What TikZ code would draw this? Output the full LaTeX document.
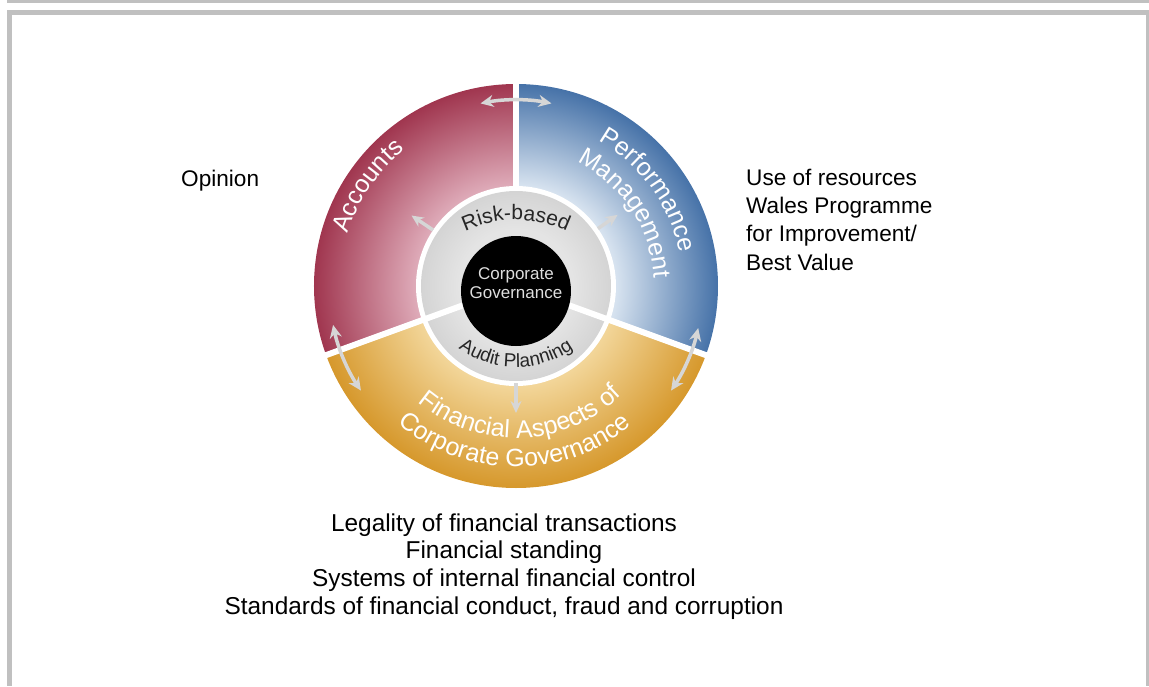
\documentclass[tikz,border=0pt]{standalone}
\usepackage{fontspec}
\setmainfont{Liberation Sans}
\usetikzlibrary{decorations.text,arrows.meta,calc}

\definecolor{framegray}{HTML}{C0C0C0}
\definecolor{accdark}{HTML}{A0364F}
\definecolor{acclight}{HTML}{DEAAB8}
\definecolor{perfdark}{HTML}{4672A8}
\definecolor{perflight}{HTML}{D6E2EF}
\definecolor{findark}{HTML}{D6982C}
\definecolor{finlight}{HTML}{F2D598}
\definecolor{ringdark}{HTML}{D4D4D4}
\definecolor{ringlight}{HTML}{E4E4E4}
\definecolor{arrowgray}{HTML}{D6D6D6}
\definecolor{coretext}{HTML}{DEDEDE}
\definecolor{ringtext}{HTML}{262626}

% radial fills of the three outer segments (25bp = outer rim of the shaded circle)
\pgfdeclareradialshading{accshade}{\pgfpoint{0bp}{0bp}}{color(0bp)=(acclight); color(12.5bp)=(acclight); color(25bp)=(accdark); color(50bp)=(accdark)}
\pgfdeclareradialshading{perfshade}{\pgfpoint{0bp}{0bp}}{color(0bp)=(perflight); color(12.5bp)=(perflight); color(25bp)=(perfdark); color(50bp)=(perfdark)}
\pgfdeclareradialshading{finshade}{\pgfpoint{0bp}{0bp}}{color(0bp)=(finlight); color(12.5bp)=(finlight); color(25bp)=(findark); color(50bp)=(findark)}
\pgfdeclareradialshading{ringshade}{\pgfpoint{0bp}{0bp}}{color(0bp)=(ringlight); color(15bp)=(ringlight); color(25bp)=(ringdark); color(50bp)=(ringdark)}

\newcommand\segfont{\fontsize{25}{30}\selectfont}
\newcommand\ringfont{\fontsize{21}{25}\selectfont}
\newcommand\auditfont{\fontsize{19}{23}\selectfont}

\begin{document}
\begin{tikzpicture}[x=1pt,y=1pt,
  framebar/.style={fill=framegray,draw=none},
  divider/.style={draw=white,line width=6pt},
  linkarrow/.style={draw=arrowgray,line width=3.5pt,
    {Stealth[length=13pt,width=12pt]}-{Stealth[length=13pt,width=12pt]}},
  outarrow/.style={draw=arrowgray,line width=3.5pt,-{Stealth[length=12pt,width=11pt]}},
  sidetext/.style={inner sep=0pt,font=\fontsize{22.6}{28.3}\selectfont,align=left},
  bottomtext/.style={inner sep=0pt,font=\fontsize{24.4}{27.7}\selectfont,align=center}]
\useasboundingbox (-516,-400) rectangle (633,286);

% page frame
\fill[framebar] (-509,286) rectangle (633,283);
\fill[framebar] (-509,276) rectangle (633,271);
\fill[framebar] (-509,276) rectangle (-504,-400);
\fill[framebar] (630,271) rectangle (633,-400);

% outer segments
\begin{scope}
  \clip (0,0) -- (90:210) arc[start angle=90,end angle=200,radius=210] -- cycle;
  \shade[shading=accshade] (0,0) circle (202);
\end{scope}
\begin{scope}
  \clip (0,0) -- (-20:210) arc[start angle=-20,end angle=90,radius=210] -- cycle;
  \shade[shading=perfshade] (0,0) circle (202);
\end{scope}
\begin{scope}
  \clip (0,0) -- (200:210) arc[start angle=200,end angle=340,radius=210] -- cycle;
  \shade[shading=finshade] (0,0) circle (202);
\end{scope}

% inner ring
\fill[white] (0,0) circle (100);
\shade[shading=ringshade] (0,0) circle (95);

% white dividers
\draw[divider] (90:98) -- (90:204);
\draw[divider] (0,0) -- (200:204);
\draw[divider] (0,0) -- (340:204);

% core
\fill[black] (0,-5) circle (55);
\node[text=coretext,font=\fontsize{17}{18.5}\selectfont,align=center,inner sep=0pt]
  (core) at (0,3) {Corporate\\Governance};

% ring captions
\path[decorate,decoration={text along path,text align=center,text color=ringtext,
  text={|\ringfont|Risk-based}}]
  ($(0,-53)+(135:119)$) arc[start angle=135,end angle=45,radius=119];
\path[decorate,decoration={text along path,text align=center,text color=ringtext,
  text={|\auditfont|Audit Planning}}]
  ($(0,18)+(225:99)$) arc[start angle=225,end angle=315,radius=99];

% segment captions
\path[decorate,decoration={text along path,text align=center,text color=white,
  text={|\segfont|Accounts}}]
  (186:176) arc[start angle=186,end angle=106,radius=176];
\path[decorate,decoration={text along path,text align=center,text color=white,
  text={|\segfont|Performance}}]
  (81:167) arc[start angle=81,end angle=-9,radius=167];
\path[decorate,decoration={text along path,text align=center,text color=white,
  text={|\segfont|Management}}]
  (88:138) arc[start angle=88,end angle=-21,radius=138];
\path[decorate,decoration={text along path,text align=center,text color=white,
  text={|\segfont|Financial Aspects of}}]
  (212:152) arc[start angle=212,end angle=332,radius=152];
\path[decorate,decoration={text along path,text align=center,text color=white,
  text={|\segfont|Corporate Governance}}]
  (210:181) arc[start angle=210,end angle=329,radius=181];

% links between neighbouring segments
\coordinate (topA) at (101:186);
\coordinate (leftA) at (192:187);
\coordinate (rightA) at (-13:187);
\draw[linkarrow] (topA) arc[start angle=101,end angle=79,radius=186];
\draw[linkarrow] (leftA) arc[start angle=192,end angle=214,radius=187];
\draw[linkarrow] (rightA) arc[start angle=-13,end angle=-34,radius=187];

% arrows from the ring into the segments
\coordinate (accIn) at (146:100);  \coordinate (accOut) at (146:126);
\coordinate (perfIn) at (35:100);  \coordinate (perfOut) at (35:124);
\coordinate (finIn) at (270:97);   \coordinate (finOut) at (270:127);
\draw[outarrow] (accIn) -- (accOut);
\draw[outarrow] (perfIn) -- (perfOut);
\draw[outarrow] (finIn) -- (finOut);

% outside captions
\node[sidetext,anchor=west] (opinion) at (-335,105) {Opinion};
\node[sidetext,anchor=west] (uor) at (230,66.5)
  {Use of resources\\Wales Programme\\for Improvement/\\Best Value};
\node[bottomtext] (fin) at (-12,-280.5)
  {Legality of financial transactions\\Financial standing\\Systems of internal financial control\\Standards of financial conduct, fraud and corruption};
\end{tikzpicture}
\end{document}
